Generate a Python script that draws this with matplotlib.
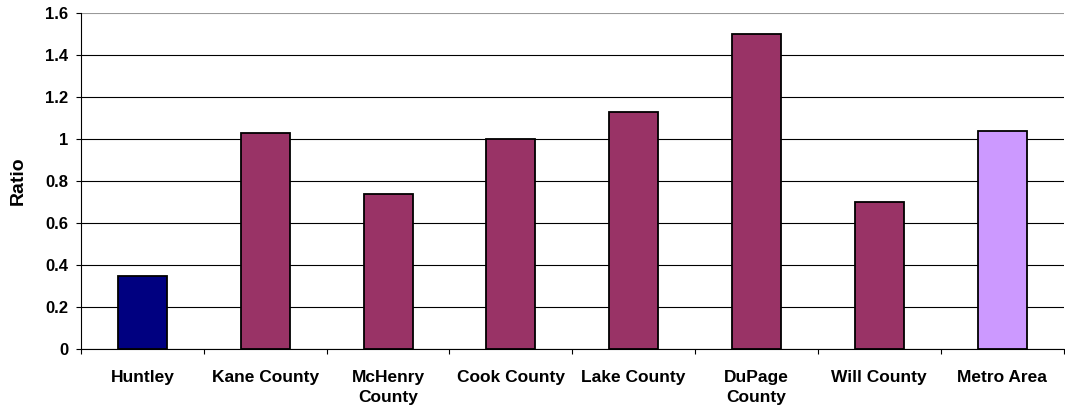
import matplotlib
matplotlib.use("Agg")
from matplotlib import pyplot as plt
import numpy as np

# ratio by area
areas = ["Huntley", "Kane County", "McHenry\nCounty", "Cook County",
         "Lake County", "DuPage\nCounty", "Will County", "Metro Area"]
ratios = [0.35, 1.03, 0.74, 1.00, 1.13, 1.50, 0.70, 1.04]
bar_colors = ["#000080", "#993366", "#993366", "#993366",
              "#993366", "#993366", "#993366", "#CC99FF"]
y_ticks = [0, 0.2, 0.4, 0.6, 0.8, 1, 1.2, 1.4, 1.6]
y_labels = ["0", "0.2", "0.4", "0.6", "0.8", "1", "1.2", "1.4", "1.6"]

plt.rcParams['font.family'] = ['Liberation Sans', 'DejaVu Sans']

fig = plt.figure(figsize=(10.65, 4.12), dpi=100)
ax = fig.add_axes([0.0761, 0.1529, 0.9225, 0.8155])

x = np.arange(len(areas))
ax.bar(x, ratios, width=0.4, color=bar_colors, edgecolor="black",
       linewidth=1.3, zorder=3)

ax.set_xlim(-0.5, len(areas) - 0.5)
ax.set_ylim(0, 1.6)

ax.set_yticks(y_ticks)
ax.set_yticklabels(y_labels, fontsize=12, fontweight="bold")
ax.tick_params(axis="y", direction="out", length=3.6, width=0.8, pad=5.5)

ax.set_xticks(x)
ax.set_xticklabels(areas, fontsize=12.5, fontweight="bold", linespacing=1.45)
ax.tick_params(axis="x", which="major", length=0, pad=15)
ax.set_xticks(np.arange(-0.5, len(areas)), minor=True)
ax.tick_params(axis="x", which="minor", direction="out", length=3.6, width=0.8)

ax.set_ylabel("Ratio", fontsize=14, fontweight="bold", labelpad=13)

ax.yaxis.grid(True, color="black", linewidth=0.8, zorder=0)
gl = ax.get_ygridlines()
gl[-1].set_color("#999999")

for side in ["top", "right"]:
    ax.spines[side].set_visible(False)
ax.spines["left"].set_linewidth(0.8)
ax.spines["bottom"].set_linewidth(0.8)

fig.savefig("out.png", dpi=100)
